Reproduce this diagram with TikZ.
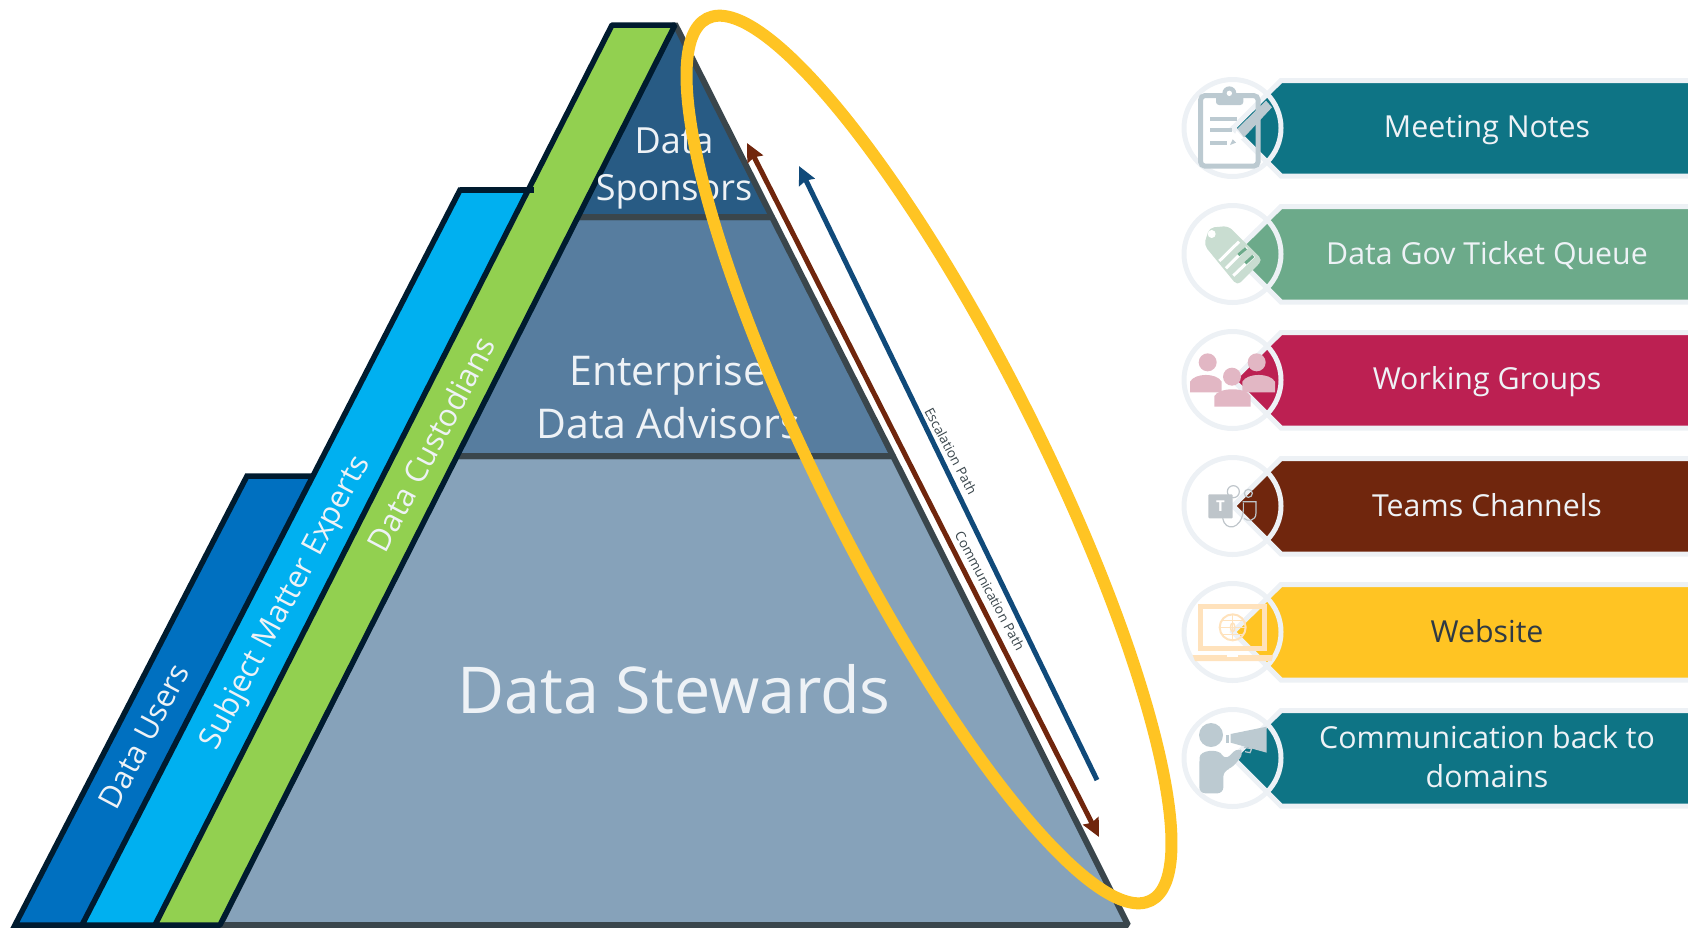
\documentclass[tikz,border=0pt]{standalone}
\usepackage{fontspec}
\setmainfont{Open Sans}
\usetikzlibrary{arrows.meta}
\definecolor{tierA}{HTML}{285B84}
\definecolor{tierB}{HTML}{577D9F}
\definecolor{tierC}{HTML}{86A2BA}
\definecolor{edgeG}{HTML}{3A464C}
\definecolor{navyE}{HTML}{001B2F}
\definecolor{bandA}{HTML}{0070C0}
\definecolor{bandB}{HTML}{00B0F0}
\definecolor{bandC}{HTML}{92D050}
\definecolor{ringC}{HTML}{EDF1F5}
\definecolor{txtL}{HTML}{EEF2F6}
\definecolor{txtD}{HTML}{2F3A44}
\definecolor{gold}{HTML}{FFC423}
\definecolor{arrB}{HTML}{70260D}
\definecolor{arrN}{HTML}{104A7A}
\definecolor{rTeal}{HTML}{0E7485}
\definecolor{rGreen}{HTML}{6CAA8A}
\definecolor{rRed}{HTML}{BC2052}
\definecolor{rBrown}{HTML}{70260D}
\definecolor{iGrey}{HTML}{BCCAD1}
\definecolor{iTag}{HTML}{C9DDD1}
\definecolor{iPink}{HTML}{E2B7C4}
\definecolor{iTeams}{HTML}{BEC5CA}
\definecolor{iSun}{HTML}{FFE2BC}
\tikzset{
  tier/.style={draw=edgeG,line width=6pt,line join=bevel},
  band/.style={draw=navyE,line width=5.5pt},
  tiertext/.style={text=txtL,align=center,inner sep=0pt},
  bandtext/.style={text=txtL,font=\fontsize{31}{38}\selectfont,rotate=62,inner sep=0pt},
  pathtext/.style={text=edgeG,font=\fontsize{13.5}{16}\selectfont,rotate=-62,inner sep=0pt},
  rowtext/.style={font=\fontsize{30.3}{39}\selectfont,align=center,inner sep=0pt,text=txtL},
  hexa/.style={draw=ringC,line width=5pt,line join=miter},
  ringc/.style={draw=ringC,line width=5pt},
  pathline/.style={line width=5pt}
}
\newcommand{\rowbase}[2]{%
  \path[hexa,fill=#1] (1233,#2) -- (1281,#2-47.5) -- (1695,#2-47.5) -- (1695,#2+48) -- (1281,#2+48) -- cycle;
  \draw[ringc] (1232.5,#2) circle[radius=48.5];
}
\begin{document}
\begin{tikzpicture}[x=1pt,y=-1pt]
\useasboundingbox (0,0) rectangle (1688,927);
\clip (0,0) rectangle (1688,927);
% pyramid
\path[tier,fill=tierC] (456,456) -- (893,456) -- (1128,925) -- (220,925) -- cycle;
\path[tier,fill=tierB] (577,217) -- (772,217) -- (893,456) -- (456,456) -- cycle;
\path[tier,fill=tierA] (675,24) -- (772,217) -- (577,217) -- cycle;
% bands
\path[band,fill=bandA] (15,925) -- (247,476) -- (320,476) -- (90,925) -- cycle;
\path[band,fill=bandB] (82,925) -- (460,190) -- (532,190) -- (160,925) -- cycle;
\path[band,fill=bandC,line join=bevel] (155,925) -- (612,25) -- (675,25) -- (220,925) -- cycle;
\draw[navyE,line width=5.5pt] (460,190) -- (534,190);
% labels
\node[bandtext] (bu) at (144,736) {Data Users};
\node[bandtext] (bs) at (286,603) {Subject Matter Experts};
\node[bandtext] (bc) at (431,444) {Data Custodians};
\node[tiertext,font=\fontsize{36}{47}\selectfont] (t1) at (674,168) {Data\\Sponsors};
\node[tiertext,font=\fontsize{41}{53}\selectfont] (t2) at (668,397) {Enterprise\\Data Advisors};
\node[tiertext,font=\fontsize{64.6}{70}\selectfont] (t3) at (674,689) {Data Stewards};
% arrows
\coordinate (brT) at (747,143);
\coordinate (brB) at (1099,837);
\coordinate (blT) at (799,166);
\coordinate (blB) at (1097,780);
\draw[pathline,arrB,{Stealth[length=18pt,width=17pt,inset=2pt]}-{Stealth[length=18pt,width=17pt,inset=2pt]}] (brT) -- (brB);
\draw[pathline,arrN,{Stealth[length=18pt,width=17pt,inset=2pt]}-] (blT) -- (blB);
\node[pathtext] (pe) at (951,451) {Escalation Path};
\node[pathtext] (pc) at (990,591) {Communication Path};
% ellipse
\draw[gold,line width=12pt] (929,459.5) ellipse[x radius=493.7pt,y radius=109.5pt,rotate=-63.3];
% rows
\rowbase{rTeal}{128}
\rowbase{rGreen}{254}
\rowbase{rRed}{380}
\rowbase{rBrown}{506}
\rowbase{gold}{632}
\rowbase{rTeal}{758}
\node[rowtext] (r1) at (1487,130) {Meeting Notes};
\node[rowtext] (r2) at (1487,256) {Data Gov Ticket Queue};
\node[rowtext] (r3) at (1487,382) {Working Groups};
\node[rowtext] (r4) at (1487,505.5) {Teams Channels};
\node[rowtext,text=txtD] (r5) at (1487,631) {Website};
\node[rowtext] (r6) at (1487,757) {Communication back to\\domains};
% clipboard icon
\begin{scope}[shift={(1160,60)},scale=1/3]
  \draw[iGrey,line width=5pt,rounded corners=4pt] (122,107) rectangle (294,318);
  \fill[iGrey,rounded corners=3pt] (168,135) rectangle (250,100);
  \fill[iGrey] (208,100) circle[radius=21];
  \fill[white] (208,100) circle[radius=8];
  \fill[iGrey] (150,172) rectangle (232,184);
  \fill[iGrey] (150,204) rectangle (215,216);
  \fill[iGrey] (150,242) rectangle (202,254);
  \fill[iGrey] (232,206) -- (318,122) -- (336,142) -- (252,232) -- cycle;
  \fill[white] (210,255) -- (230,212) -- (250,234) -- cycle;
  \fill[iGrey] (210,255) -- (218,238) -- (228,248) -- cycle;
\end{scope}
% tag icon
\begin{scope}[shift={(1160,60)},scale=1/3]
  \fill[iTag,rounded corners=5pt] (132,555) -- (148,503) -- (205,498) -- (308,600) -- (232,677) -- cycle;
  \fill[white] (155,522) circle[radius=12];
  \draw[white,line width=3pt] (178,603) -- (237,545);
  \draw[white,line width=3pt] (198,625) -- (260,563);
  \draw[white,line width=3pt] (220,647) -- (282,588);
  \draw[rGreen,line width=3pt] (235,585) -- (258,565);
  \draw[rGreen,line width=3pt] (256,610) -- (280,588);
\end{scope}
% people icon
\begin{scope}[shift={(1160,310)},scale=1/3]
  \fill[iPink] (143,157) circle[radius=27];
  \fill[iPink] (90,247) -- (90,215) .. controls (105,188) and (170,188) .. (185,215) -- (185,247) -- cycle;
  \fill[iPink] (290,157) circle[radius=27];
  \fill[iPink] (247,247) -- (247,215) .. controls (262,188) and (330,188) .. (345,215) -- (345,247) -- cycle;
  \fill[iPink] (216,200) circle[radius=27];
  \fill[iPink] (163,290) -- (163,258) .. controls (178,231) and (257,231) .. (272,258) -- (272,290) -- cycle;
\end{scope}
% teams icon
\begin{scope}[shift={(1160,310)},scale=1/3]
  \draw[iTeams,line width=1.2pt] (220,545) circle[radius=18];
  \draw[iTeams,line width=1.2pt] (265,550) circle[radius=12];
  \draw[iTeams,line width=1.2pt] (188,625) .. controls (195,665) and (245,660) .. (250,600) -- (250,578);
  \draw[iTeams,line width=1.2pt] (248,575) -- (288,575) -- (288,608) .. controls (288,635) and (262,635) .. (252,625);
  \fill[iTeams,rounded corners=1pt] (145,553) rectangle (218,625);
  \node[text=white,font=\bfseries\fontsize{15}{15}\selectfont,inner sep=0pt] (tm) at (181,589) {T};
\end{scope}
% laptop icon
\begin{scope}[shift={(1160,560)},scale=1/3]
  \draw[iSun,line width=5pt] (122,140) rectangle (313,265);
  \fill[iSun] (98,285) -- (340,285) -- (335,303) -- (105,303) -- cycle;
  \fill[white] (200,285) rectangle (235,290);
  \draw[iSun,line width=2pt] (218,202) circle[radius=39];
  \draw[iSun,line width=1.5pt] (218,202) ellipse[x radius=6.5pt,y radius=13pt];
  \draw[iSun,line width=1.5pt] (218,163) -- (218,241);
  \draw[iSun,line width=1.5pt] (179,202) -- (257,202);
  \draw[iSun,line width=1.5pt] (186,181) -- (250,181);
  \draw[iSun,line width=1.5pt] (186,223) -- (250,223);
\end{scope}
% speaker icon
\begin{scope}[shift={(1160,560)},scale=1/3]
  \fill[iGrey] (153,525) circle[radius=36];
  \fill[iGrey,rounded corners=6pt] (118,700) -- (118,610) .. controls (120,570) and (175,565) .. (195,600) -- (235,562) -- (252,580) -- (215,625) -- (190,632) -- (190,700) -- cycle;
  \fill[iGrey] (198,524) rectangle (206,550);
  \fill[iGrey] (212,522) -- (320,500) -- (320,578) -- (212,548) -- cycle;
  \draw[iGrey,line width=1.2pt] (252,562) -- (275,566) -- (270,578) -- (255,575);
\end{scope}
\end{tikzpicture}
\end{document}
